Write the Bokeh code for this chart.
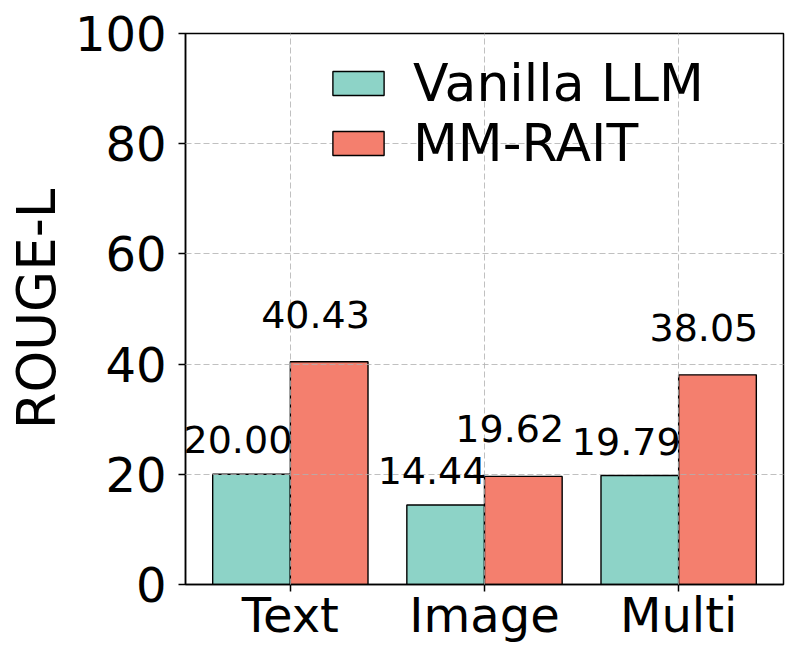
from bokeh.plotting import figure
from bokeh.models import ColumnDataSource, FactorRange, Legend, LegendItem, LabelSet, FixedTicker
from bokeh.core.properties import value
from bokeh.transform import dodge
from bokeh.embed import file_html
from bokeh.resources import INLINE

categories = ["Text", "Image", "Multi"]
vanilla = [20.00, 14.44, 19.79]
mmrait = [40.43, 19.62, 38.05]
series_names = ["Vanilla LLM", "MM-RAIT"]
y_ticks = [0, 20, 40, 60, 80, 100]

FONT = "DejaVu Sans"

src = ColumnDataSource(dict(
    cat=categories,
    vanilla=vanilla,
    mmrait=mmrait,
    vanilla_lbl=[f"{v:.2f}" for v in vanilla],
    mmrait_lbl=[f"{v:.2f}" for v in mmrait],
    vanilla_ly=[v + 3.8 for v in vanilla],
    mmrait_ly=[v + 6.2 for v in mmrait],
))

p = figure(
    x_range=FactorRange(*categories, range_padding=0.04, range_padding_units="absolute"),
    y_range=(0, 100),
    frame_width=598, frame_height=551,
    min_border_left=185, min_border_right=6, min_border_top=33, min_border_bottom=70,
    output_backend="svg", toolbar_location=None,
)
p.background_fill_color = "white"
p.border_fill_color = "white"
p.outline_line_color = "black"
p.outline_line_width = 1.5

r1 = p.vbar(x=dodge("cat", -0.2, range=p.x_range), top="vanilla", width=0.4, source=src,
            fill_color="#8dd3c7", line_color="black", line_width=1.4)
r2 = p.vbar(x=dodge("cat", 0.2, range=p.x_range), top="mmrait", width=0.4, source=src,
            fill_color="#f47f6e", line_color="black", line_width=1.4)

lbl1 = LabelSet(x=dodge("cat", -0.27, range=p.x_range), y="vanilla_ly", text="vanilla_lbl", source=src,
                text_align="center", text_baseline="alphabetic", text_font=value(FONT),
                text_font_size="38px", text_color="black")
lbl2 = LabelSet(x=dodge("cat", 0.13, range=p.x_range), y="mmrait_ly", text="mmrait_lbl", source=src,
                text_align="center", text_baseline="alphabetic", text_font=value(FONT),
                text_font_size="38px", text_color="black")
p.add_layout(lbl1)
p.add_layout(lbl2)

# grid above bars
for g in (p.xgrid, p.ygrid):
    g.grid_line_color = "#b0b0b0"
    g.grid_line_alpha = 0.8
    g.grid_line_dash = "6 3"
    g.grid_line_width = 1
    g.level = "guide"

p.yaxis.ticker = FixedTicker(ticks=y_ticks)
for ax in (p.xaxis, p.yaxis):
    ax.axis_line_color = "black"
    ax.axis_line_width = 1.5
    ax.major_tick_line_color = "black"
    ax.major_tick_line_width = 1.5
    ax.major_tick_out = 7
    ax.major_tick_in = 0
    ax.minor_tick_line_color = None
    ax.major_label_text_font = FONT
    ax.major_label_text_font_size = "48px"
    ax.major_label_text_color = "black"
    ax.axis_label_text_font = FONT
    ax.axis_label_text_font_style = "normal"
    ax.axis_label_text_color = "black"

p.yaxis.axis_label = "ROUGE-L"
p.yaxis.axis_label_text_font_size = "53px"
p.yaxis.major_label_standoff = 12
p.yaxis.axis_label_standoff = 5
p.xaxis.major_label_standoff = -5

legend = Legend(items=[LegendItem(label=series_names[0], renderers=[r1]),
                       LegendItem(label=series_names[1], renderers=[r2])],
                location=(141, 411))
legend.label_text_font = FONT
legend.label_text_font_size = "52px"
legend.label_text_color = "black"
legend.glyph_width = 64
legend.glyph_height = 30
legend.label_standoff = 23
legend.spacing = 0
legend.padding = 0
legend.margin = 0
legend.background_fill_alpha = 0
legend.border_line_alpha = 0
p.add_layout(legend)

open("out.html", "w").write(file_html(p, INLINE))
